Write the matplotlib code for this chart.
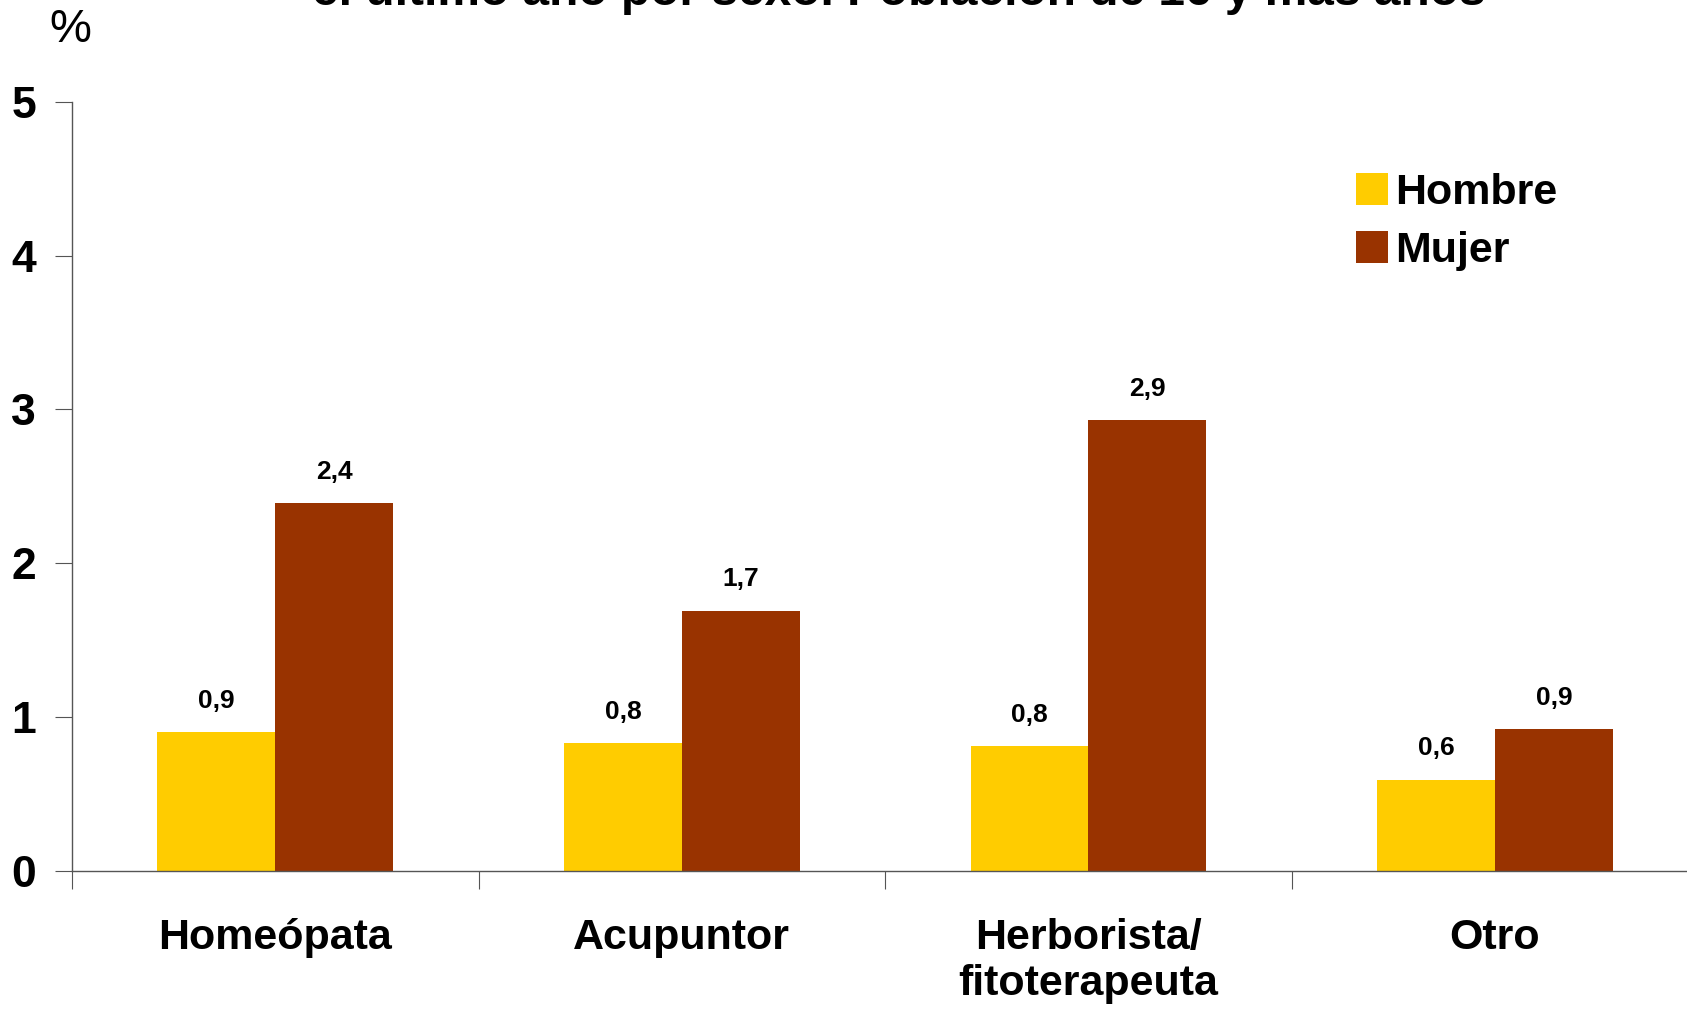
import matplotlib.pyplot as plt
import numpy as np

plt.rcParams['font.family'] = ['Liberation Sans', 'DejaVu Sans']

categorias = ['Homeópata', 'Acupuntor', 'Herborista/\nfitoterapeuta', 'Otro']
hombre = [0.90, 0.83, 0.81, 0.59]
mujer = [2.39, 1.69, 2.93, 0.92]
etiq_hombre = ['0,9', '0,8', '0,8', '0,6']
etiq_mujer = ['2,4', '1,7', '2,9', '0,9']
titulo = 'el último año por sexo. Población de 16 y más años'

col_h = '#FFCC00'
col_m = '#993300'

fig = plt.figure(figsize=(16.87, 10.10), dpi=100)
ax = fig.add_axes([0.0427, 0.138, 0.964, 0.761])

x = np.arange(len(categorias))
w = 0.29
b1 = ax.bar(x - w / 2, hombre, w, color=col_h, label='Hombre')
b2 = ax.bar(x + w / 2, mujer, w, color=col_m, label='Mujer')

for bars, labs in ((b1, etiq_hombre), (b2, etiq_mujer)):
    for r, t in zip(bars, labs):
        ax.annotate(t, (r.get_x() + r.get_width() / 2, r.get_height()),
                    xytext=(0, 14), textcoords='offset points',
                    ha='center', va='bottom', fontsize=19, fontweight='bold')

ax.set_xlim(-0.5, len(categorias) - 0.5)
ax.set_ylim(0, 5)
ax.set_yticks(range(6))
ax.set_yticklabels([str(i) for i in range(6)], fontsize=32, fontweight='bold')
ax.set_xticks(np.arange(len(categorias) + 1) - 0.5)
ax.set_xticklabels([])
ax.set_xticks(x, minor=True)
ax.set_xticklabels(categorias, minor=True, fontsize=31, fontweight='bold',
                   linespacing=1.2)
ax.tick_params(axis='x', which='minor', length=0, pad=34)
ax.tick_params(axis='x', which='major', length=13, direction='out', color='#555555')
ax.tick_params(axis='y', length=12, direction='out', color='#555555', pad=14)

for s in ('top', 'right'):
    ax.spines[s].set_visible(False)
for s in ('left', 'bottom'):
    ax.spines[s].set_color('#555555')
    ax.spines[s].set_linewidth(1.0)

ax.legend(loc='upper left', bbox_to_anchor=(0.779, 0.93), frameon=False,
          prop={'size': 31, 'weight': 'bold'}, handlelength=0.75,
          handleheight=0.75, handletextpad=0.15, labelspacing=0.42,
          borderaxespad=0)

fig.text(0.0415, 0.949, '%', fontsize=34, ha='center', va='bottom')
fig.text(0.533, 0.995, titulo, fontsize=34.5, fontweight='bold',
         ha='center', va='baseline')

fig.savefig('out.png', dpi=100)
